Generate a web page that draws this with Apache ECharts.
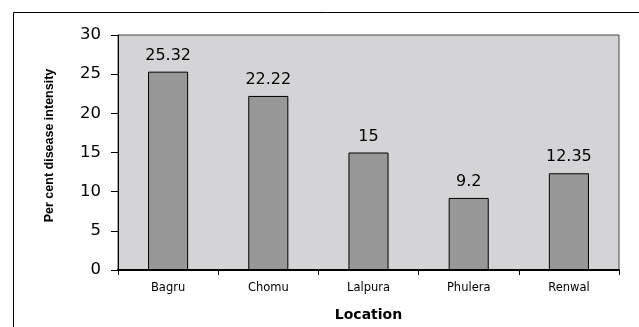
<!DOCTYPE html>
<html><head><meta charset="utf-8">
<script src="https://cdn.jsdelivr.net/npm/echarts@6/dist/echarts.min.js"></script>
<style>html,body{margin:0;padding:0;background:#fff}#c{width:639px;height:327px}</style>
</head><body><div id="c"></div>
<script>
const categories = ["Bagru", "Chomu", "Lalpura", "Phulera", "Renwal"];
const intensity = [25.32, 22.22, 15, 9.2, 12.35];
const yTicks = [0, 5, 10, 15, 20, 25, 30];

const chart = echarts.init(document.getElementById('c'), null, {renderer: 'canvas'});
chart.setOption({
  animation: false,
  backgroundColor: '#ffffff',
  graphic: [{
    type: 'rect', left: 11, top: 10, silent: true,
    shape: {width: 660, height: 340},
    style: {fill: 'none', stroke: '#000', lineWidth: 1}
  }],
  grid: {left: 118, top: 35, right: 20, bottom: 55, show: true,
    backgroundColor: '#d4d4d6', borderColor: '#444', borderWidth: 1},
  xAxis: {
    type: 'category', data: categories,
    name: 'Location', nameLocation: 'middle', nameGap: 38,
    nameTextStyle: {fontFamily: 'DejaVu Sans', fontWeight: 'bold', fontSize: 14, color: '#000'},
    axisLine: {lineStyle: {color: '#000', width: 2}},
    axisTick: {show: true, length: 5, lineStyle: {color: '#000'}},
    axisLabel: {fontFamily: 'DejaVu Sans', fontSize: 11.5, color: '#000', margin: 12}
  },
  yAxis: {
    type: 'value', min: yTicks[0], max: yTicks[yTicks.length - 1], interval: 5,
    name: 'Per cent disease intensity', nameLocation: 'middle', nameGap: 62,
    nameTextStyle: {fontFamily: 'Liberation Sans', fontWeight: 'bold', fontSize: 12.5, color: '#000', padding: [0, 0, 0, 14]},
    axisLine: {show: true, lineStyle: {color: '#000', width: 1}},
    axisTick: {show: true, length: 7, lineStyle: {color: '#000'}},
    splitLine: {show: false},
    axisLabel: {fontFamily: 'DejaVu Sans', fontSize: 16.5, color: '#000', margin: 17}
  },
  series: [{
    type: 'bar', data: intensity, barWidth: '40%',
    itemStyle: {color: '#989898', borderColor: '#000', borderWidth: 1},
    label: {show: true, position: 'top', distance: 8, fontFamily: 'DejaVu Sans', fontSize: 16, color: '#000'}
  }]
});
</script></body></html>
